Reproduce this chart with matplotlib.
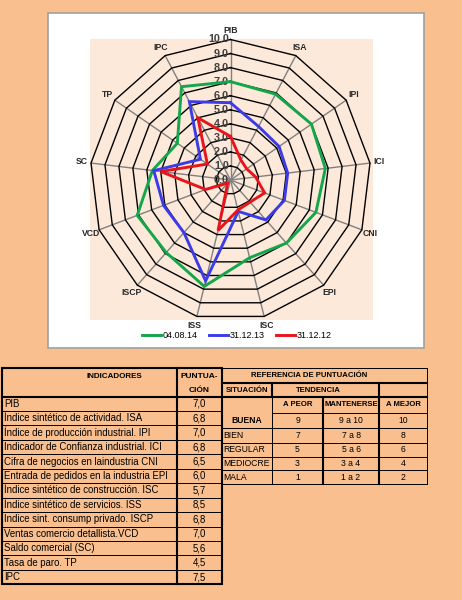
import matplotlib

matplotlib.use("Agg")
import matplotlib.pyplot as plt  # noqa: E402
import numpy as np  # noqa: E402
from matplotlib import font_manager  # noqa: E402
from matplotlib.lines import Line2D  # noqa: E402
from matplotlib.patches import Rectangle  # noqa: E402

W, H = 462, 600

# --- radar data ---
CATEGORIES = ["PIB", "ISA", "IPI", "ICI", "CNI", "EPI", "ISC", "ISS",
              "ISCP", "VCD", "SC", "TP", "IPC"]
SERIES_LABELS = ["04.08.14", "31.12.13", "31.12.12"]
S_040814 = [7.0, 6.9, 7.0, 6.8, 6.5, 6.0, 5.7, 7.8, 6.9, 7.1, 5.6, 4.6, 7.5]
S_311213 = [5.5, 4.3, 4.2, 4.1, 4.1, 3.8, 2.3, 7.4, 5.0, 5.1, 5.5, 2.6, 6.3]
S_311212 = [3.1, 1.6, 1.4, 1.8, 2.6, 2.1, 2.2, 3.7, 0.3, 1.9, 5.0, 2.0, 5.0]
SERIES_COLORS = ["#14A64A", "#3C3CE6", "#E8141B"]
RADIAL_TICKS = [0, 1, 2, 3, 4, 5, 6, 7, 8, 9, 10]

# --- left table ---
INDICADORES = [
    "PIB",
    "Índice sintético de actividad. ISA",
    "Índice de producción industrial. IPI",
    "Indicador de Confianza industrial. ICI",
    "Cifra de negocios en laindustria CNI",
    "Entrada de pedidos en la industria EPI",
    "Índice sintético de construcción. ISC",
    "Índice sintético de servicios. ISS",
    "Indice sint. consump privado. ISCP",
    "Ventas comercio detallista.VCD",
    "Saldo comercial (SC)",
    "Tasa de paro. TP",
    "IPC",
]
PUNTUACION = ["7,0", "6,8", "7,0", "6,8", "6,5", "6,0", "5,7", "8,5",
              "6,8", "7,0", "5,6", "4,5", "7,5"]

# --- right table ---
SITUACION = ["BUENA", "BIEN", "REGULAR", "MEDIOCRE", "MALA"]
A_PEOR = ["9", "7", "5", "3", "1"]
MANTENERSE = ["9 a 10", "7 a 8", "5 a 6", "3 a 4", "1 a 2"]
A_MEJOR = ["10", "8", "6", "4", "2"]

installed = {f.name for f in font_manager.fontManager.ttflist}
SANS = "Liberation Sans"
NARROW = "Liberation Sans Narrow" if "Liberation Sans Narrow" in installed else SANS

PEACH = "#F9BF8F"
PLOT_BG = "#FDE9D9"

fig = plt.figure(figsize=(W / 100, H / 100), dpi=100, facecolor=PEACH)

# background axes in pixel coordinates (y down)
bg = fig.add_axes([0, 0, 1, 1])
bg.set_xlim(0, W)
bg.set_ylim(H, 0)
bg.axis("off")

bg.add_patch(Rectangle((48, 13), 376, 335, facecolor="white",
                       edgecolor="#A0A0A0", lw=1.2))
bg.add_patch(Rectangle((90, 39), 283, 281, facecolor=PLOT_BG, edgecolor="none"))

# radar chart
cx, cy, R = 230.5, 180.0, 140.5
rad = fig.add_axes([(cx - R) / W, 1 - (cy + R) / H, 2 * R / W, 2 * R / H],
                   projection="polar")
rad.set_theta_zero_location("N")
rad.set_theta_direction(-1)
rad.set_ylim(0, 10)
rad.axis("off")

theta = np.arange(len(CATEGORIES)) * 2 * np.pi / len(CATEGORIES)
closed = np.append(theta, theta[0])

for t in theta:
    rad.plot([t, t], [0, 10], color="#808080", lw=1.0, clip_on=False, zorder=1)
for r in RADIAL_TICKS[1:]:
    rad.plot(closed, [r] * len(closed), color="black", lw=1.0,
             clip_on=False, zorder=2)

for vals, color in zip([S_040814, S_311213, S_311212], SERIES_COLORS):
    v = np.append(vals, vals[0])
    rad.plot(closed, v, color=color, lw=2.1, clip_on=False, zorder=4,
             solid_joinstyle="miter")

for r in RADIAL_TICKS:
    rad.annotate(f"{r:.1f}", xy=(0, r), xytext=(-1, 0), textcoords="offset points",
                 ha="right", va="center", fontsize=7.8, fontweight="bold",
                 family=NARROW, color="#404040", zorder=3)

for t, name in zip(theta, CATEGORIES):
    rad.text(t, 10.65, name, ha="center", va="center", fontsize=6.2,
             fontweight="bold", family=SANS, color="#262626")

handles = [Line2D([], [], color=c, lw=2.1) for c in SERIES_COLORS]
fig.legend(handles, SERIES_LABELS, loc="center",
           bbox_to_anchor=(237 / W, 1 - 335.5 / H), ncol=3, frameon=False,
           prop={"family": SANS, "size": 6.5}, handlelength=2.1,
           handletextpad=0.25, columnspacing=1.2, borderpad=0.2)

# ---------------- left table ----------------
LT_X0, LT_XS, LT_X1 = 2, 177, 222
LT_Y0, LT_HEAD = 368, 396.5
ROW_H = 14.45
LT_Y1 = LT_HEAD + ROW_H * len(INDICADORES)
THICK, THIN = 1.5, 0.7

bg.add_patch(Rectangle((LT_X0, LT_Y0), LT_X1 - LT_X0, LT_Y1 - LT_Y0,
                       fill=False, edgecolor="black", lw=THICK))
bg.plot([LT_XS, LT_XS], [LT_Y0, LT_Y1], color="black", lw=THICK)
bg.plot([LT_X0, LT_X1], [LT_HEAD, LT_HEAD], color="black", lw=THICK)
for i in range(1, len(INDICADORES)):
    y = LT_HEAD + ROW_H * i
    bg.plot([LT_X0, LT_X1], [y, y], color="black", lw=THIN)

bg.text(114, 377, "INDICADORES", ha="center", va="center", fontsize=5.8,
        fontweight="bold", family=NARROW)
bg.text((LT_XS + LT_X1) / 2, 376, "PUNTUA-", ha="center", va="center",
        fontsize=6.0, fontweight="bold", family=NARROW)
bg.text((LT_XS + LT_X1) / 2, 391, "CIÓN", ha="center", va="center",
        fontsize=6.0, fontweight="bold", family=NARROW)

for i, (name, val) in enumerate(zip(INDICADORES, PUNTUACION)):
    y = LT_HEAD + ROW_H * (i + 0.5)
    bg.text(LT_X0 + 2, y, name, ha="left", va="center", fontsize=6.9,
            family=NARROW)
    bg.text((LT_XS + LT_X1) / 2, y, val, ha="center", va="center",
            fontsize=6.9, family=NARROW)

# ---------------- right table ----------------
cols = [222, 272, 323, 379, 427]
rows = [368, 383, 397, 413, 428, 442.5, 456.5, 470, 484]

bg.plot([cols[0], cols[-1]], [rows[0], rows[0]], color="black", lw=THIN)
bg.plot([cols[0], cols[-1]], [rows[1], rows[1]], color="black", lw=THICK)
bg.plot([cols[0], cols[-1]], [rows[2], rows[2]], color="black", lw=THICK)
bg.plot([cols[1], cols[-1]], [rows[3], rows[3]], color="black", lw=THIN)
for y in rows[4:]:
    bg.plot([cols[0], cols[-1]], [y, y], color="black", lw=THIN)
bg.plot([cols[-1], cols[-1]], [rows[0], rows[-1]], color="black", lw=THIN)
bg.plot([cols[1], cols[1]], [rows[1], rows[2]], color="black", lw=THICK)
bg.plot([cols[1], cols[1]], [rows[2], rows[-1]], color="black", lw=THIN)
bg.plot([cols[2], cols[2]], [rows[2], rows[-1]], color="black", lw=THICK)
bg.plot([cols[3], cols[3]], [rows[1], rows[-1]], color="black", lw=THICK)

hdr = dict(ha="center", va="center", fontsize=5.6, fontweight="bold", family=NARROW)
bg.text(309, (rows[0] + rows[1]) / 2, "REFERENCIA DE PUNTUACIÓN", **hdr)
bg.text((cols[0] + cols[1]) / 2, (rows[1] + rows[2]) / 2, "SITUACIÓN", **hdr)
bg.text(318, (rows[1] + rows[2]) / 2, "TENDENCIA", **hdr)
for (xa, xb), label in zip(zip(cols[1:-1], cols[2:]), ["A PEOR", "MANTENERSE", "A MEJOR"]):
    bg.text((xa + xb) / 2, (rows[2] + rows[3]) / 2, label, **hdr)

for i, (sit, p, m, b) in enumerate(zip(SITUACION, A_PEOR, MANTENERSE, A_MEJOR)):
    y = (rows[3 + i] + rows[4 + i]) / 2
    if i == 0:
        bg.text((cols[0] + cols[1]) / 2, y, sit, ha="center", va="center",
                fontsize=6.2, fontweight="bold", family=NARROW)
    else:
        bg.text(cols[0] + 1.5, y, sit, ha="left", va="center", fontsize=6.2,
                family=SANS)
    for (xa, xb), txt in zip(zip(cols[1:-1], cols[2:]), [p, m, b]):
        bg.text((xa + xb) / 2, y, txt, ha="center", va="center", fontsize=6.2,
                family=SANS)

fig.savefig("out.png", dpi=100, facecolor=PEACH)
